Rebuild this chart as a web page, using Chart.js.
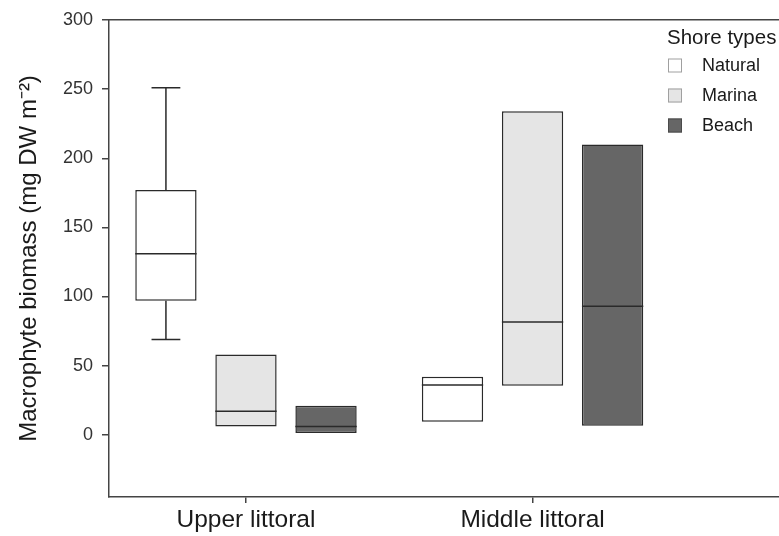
<!DOCTYPE html>
<html>
<head>
<meta charset="utf-8">
<script src="https://cdn.jsdelivr.net/npm/chart.js@4.4.0/dist/chart.umd.min.js"></script>
<style>
html, body { margin: 0; padding: 0; background: #fff; overflow: hidden; }
#wrap { width: 779px; height: 536px; }
</style>
</head>
<body>
<div id="wrap"><canvas id="chart" width="779" height="536"></canvas></div>
<script>
const groups = ['Upper littoral', 'Middle littoral'];
const shoreTypes = ['Natural', 'Marina', 'Beach'];
const legendTitle = 'Shore types';
const yTitle = 'Macrophyte biomass (mg DW m\u207B\u00B2)';
const fillColors = ['#ffffff', '#e5e5e5', '#666666'];
const legendEdges = ['#a0a0a0', '#a0a0a0', '#4a4a4a'];

// box statistics, one row per shore type, one value per littoral zone
const q1 = [[97, 9.5], [6, 35.5], [1.2, 6.5]];
const median = [[131, 36], [17, 81.5], [6, 93]];
const q3 = [[177, 42], [58, 234], [21, 210]];
const whiskerLow = [[69, null], [null, null], [null, null]];
const whiskerHigh = [[251, null], [null, null], [null, null]];

const yTicks = [0, 50, 100, 150, 200, 250, 300];

const FONT = '"Liberation Sans", Arial, sans-serif';
Chart.defaults.font.family = FONT;
Chart.defaults.color = '#1a1a1a';

// medians, whiskers and the legend on top of the floating bars
const boxExtras = {
    id: 'boxExtras',
    afterDatasetsDraw(chart) {
        const c = chart.ctx;
        const y = chart.scales.y;
        c.save();
        c.strokeStyle = '#2a2a2a';
        c.lineWidth = 1.5;
        chart.data.datasets.forEach((ds, i) => {
            chart.getDatasetMeta(i).data.forEach((bar, j) => {
                const half = bar.width / 2;
                const m = y.getPixelForValue(median[i][j]);
                c.beginPath();
                c.moveTo(bar.x - half, m);
                c.lineTo(bar.x + half, m);
                c.stroke();
                [[whiskerHigh, q3], [whiskerLow, q1]].forEach(([w, q]) => {
                    if (w[i][j] == null) return;
                    const from = y.getPixelForValue(q[i][j]);
                    const to = y.getPixelForValue(w[i][j]);
                    c.beginPath();
                    c.moveTo(bar.x, from);
                    c.lineTo(bar.x, to);
                    c.moveTo(bar.x - half * 0.47, to);
                    c.lineTo(bar.x + half * 0.47, to);
                    c.stroke();
                });
            });
        });
        c.restore();
    },
    afterDraw(chart) {
        const c = chart.ctx;
        const {right, top} = chart.chartArea;
        const left = right - 112;
        c.save();
        c.fillStyle = '#1a1a1a';
        c.textBaseline = 'alphabetic';
        c.font = '20.5px ' + FONT;
        c.fillText(legendTitle, left, top + 23.5);
        c.font = '18px ' + FONT;
        c.textBaseline = 'middle';
        chart.data.datasets.forEach((ds, i) => {
            const cy = top + 45.5 + i * 30;
            c.fillStyle = ds.backgroundColor;
            c.fillRect(left + 1, cy - 7, 14, 14);
            c.strokeStyle = legendEdges[i];
            c.lineWidth = 1;
            c.strokeRect(left + 1.5, cy - 6.5, 13, 13);
            c.fillStyle = '#1a1a1a';
            c.fillText(ds.label, left + 35, cy + 1);
        });
        c.restore();
    }
};

new Chart(document.getElementById('chart').getContext('2d'), {
    type: 'bar',
    data: {
        datasets: shoreTypes.map((name, i) => ({
            label: name,
            data: groups.map((g, j) => ({x: j, y: [q1[i][j], q3[i][j]]})),
            backgroundColor: fillColors[i],
            borderColor: '#2a2a2a',
            borderWidth: 1.5,
            borderSkipped: false,
            categoryPercentage: 0.838,
            barPercentage: 0.766
        }))
    },
    options: {
        responsive: false,
        animation: false,
        events: [],
        layout: {padding: {top: 20, right: 0, bottom: 0, left: 0}},
        plugins: {legend: {display: false}, tooltip: {enabled: false}},
        scales: {
            x: {
                type: 'linear',
                offset: false,
                min: -0.478,
                max: 1.86,
                afterBuildTicks: s => { s.ticks = groups.map((g, i) => ({value: i})); },
                afterFit: s => { s.height = 39; },
                ticks: {
                    callback: v => groups[v],
                    font: {size: 24.5},
                    padding: 3,
                    maxRotation: 0,
                    autoSkip: false
                },
                grid: {offset: false, drawOnChartArea: false, tickLength: 6, color: '#444', lineWidth: 1.5},
                border: {color: '#444', width: 1.5}
            },
            x2: {
                type: 'linear',
                position: 'top',
                offset: false,
                min: -0.478,
                max: 1.86,
                ticks: {display: false},
                grid: {offset: false, drawOnChartArea: false, drawTicks: false},
                border: {color: '#444', width: 1.5},
                afterFit: s => { s.height = 0; }
            },
            y: {
                min: -45,
                max: 300,
                afterBuildTicks: s => { s.ticks = yTicks.map(v => ({value: v})); },
                afterFit: s => { s.width = 109; },
                ticks: {font: {size: 18}, padding: 9, color: '#333'},
                grid: {drawOnChartArea: false, tickLength: 7, color: '#444', lineWidth: 1.5},
                border: {color: '#444', width: 1.5},
                title: {
                    display: true,
                    text: yTitle,
                    font: {size: 24},
                    padding: {top: 15, bottom: 0}
                }
            }
        }
    },
    plugins: [boxExtras]
});
</script>
</body>
</html>
